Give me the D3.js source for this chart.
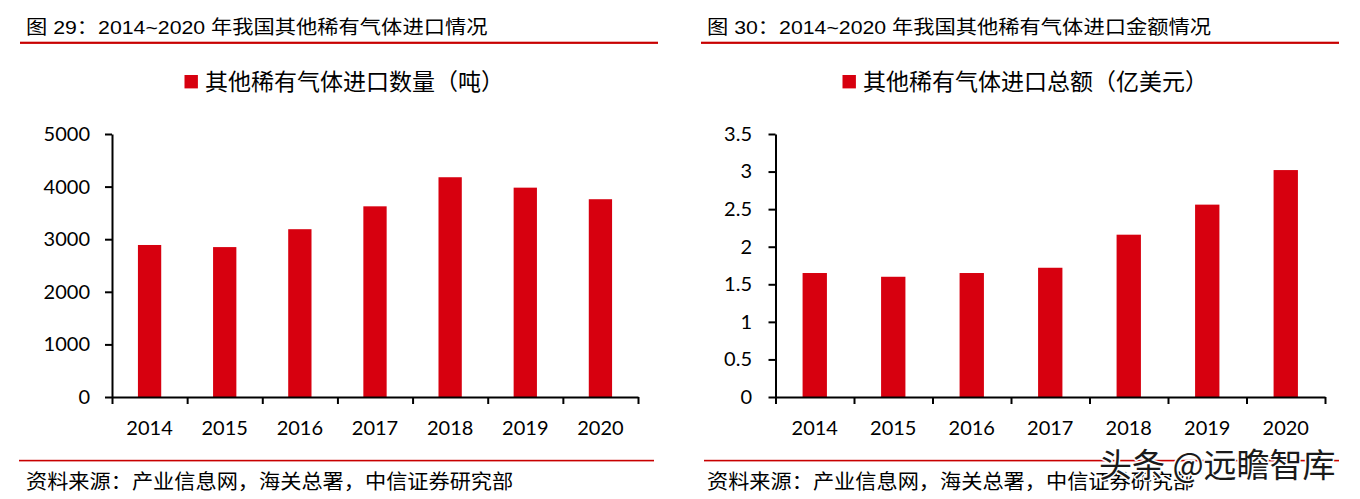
<!DOCTYPE html>
<html><head><meta charset="utf-8">
<script src="https://cdn.jsdelivr.net/npm/d3@7"></script>
<style>body{margin:0;background:#fff}svg{display:block}</style>
</head><body>
<svg id="c" width="1360" height="499"></svg>
<script>
// ---- data ----
const years = ["2014","2015","2016","2017","2018","2019","2020"];
const volumeValues = [2890, 2850, 3190, 3625, 4178, 3980, 3760];   // 吨
const amountValues = [1.65, 1.60, 1.65, 1.72, 2.16, 2.56, 3.02];   // 亿美元
const volumeTicks = [0, 1000, 2000, 3000, 4000, 5000];
const amountTicks = [0, 0.5, 1, 1.5, 2, 2.5, 3, 3.5];
const titles = ["图 29：2014~2020 年我国其他稀有气体进口情况", "图 30：2014~2020 年我国其他稀有气体进口金额情况"];
const legendLabels = ["其他稀有气体进口数量（吨）", "其他稀有气体进口总额（亿美元）"];
const sourceText = "资料来源：产业信息网，海关总署，中信证券研究部";
const watermarkText = "头条 @远瞻智库";

const RED = "#d7000f", LINE_RED = "#c80000";
const CJK = "'Liberation Sans','Noto Sans CJK SC',sans-serif";
const NUM = "Lato,'Liberation Sans',sans-serif";

const svg = d3.select("#c");

function stretchText(parent, x, y, txt, size, sx, family, anchor) {
  return parent.append("text")
    .attr("transform", `translate(${x},${y}) scale(${sx},1)`)
    .attr("font-family", family).attr("font-size", size)
    .attr("text-anchor", anchor || "start").attr("fill", "#000")
    .text(txt);
}

const panels = [
  {px0: 20, px1: 658, fx1: 654, ax0: 112, ax1: 638, legendX: 184.5, values: volumeValues, ticks: volumeTicks, max: 5000, pad: 15, title: titles[0], legend: legendLabels[0]},
  {px0: 701, px1: 1339, fx1: 1339, ax0: 775.5, ax1: 1325, legendX: 842.5, values: amountValues, ticks: amountTicks, max: 3.5, pad: 16.5, title: titles[1], legend: legendLabels[1]}
];

const yTop = 134, yBot = 397;

panels.forEach((p, i) => {
  const g = svg.append("g");
  // title
  stretchText(g, p.px0 + 6, 33.5, p.title, 19, 1.12, CJK);
  g.append("rect").attr("x", p.px0).attr("y", 41.7).attr("width", p.px1 - p.px0).attr("height", 2.2).attr("fill", LINE_RED);

  // legend
  g.append("rect").attr("x", p.legendX).attr("y", 75).attr("width", 13.4).attr("height", 13.4).attr("fill", RED);
  stretchText(g, p.legendX + 20.5, 90, p.legend, 23, 1.0, CJK);

  // scales
  const x = d3.scaleBand().domain(years).range([p.ax0, p.ax1]).paddingInner(0.69).paddingOuter(0.345);
  const xEdge = d3.scaleLinear().domain([0, years.length]).range([p.ax0, p.ax1]);
  const y = d3.scaleLinear().domain([0, p.max]).range([yBot, yTop]);

  // bars
  g.append("g").selectAll("rect").data(p.values).join("rect")
    .attr("x", (d, j) => x(years[j]))
    .attr("width", x.bandwidth())
    .attr("y", d => y(d))
    .attr("height", d => y(0) - y(d))
    .attr("fill", RED);

  // y axis
  const ya = g.append("g").attr("transform", `translate(${p.ax0},0)`)
    .call(d3.axisLeft(y).tickValues(p.ticks).tickFormat(d => String(d)).tickSize(7).tickSizeOuter(0).tickPadding(p.pad));
  // x axis tick marks at band edges
  const xa = g.append("g").attr("transform", `translate(0,${yBot})`)
    .call(d3.axisBottom(xEdge).tickValues(d3.range(years.length + 1)).tickFormat("").tickSize(7).tickSizeOuter(0));
  // x labels
  const xl = g.append("g").attr("transform", `translate(0,${yBot})`)
    .call(d3.axisBottom(x).tickSize(0).tickPadding(24));
  xl.select(".domain").remove();

  [ya, xa].forEach(a => {
    a.selectAll("path,line").attr("stroke", "#000").attr("stroke-width", 2);
  });
  [ya, xl].forEach(a => {
    a.selectAll("text").attr("font-family", NUM).attr("font-size", 20).attr("fill", "#000");
  });

  // footer
  g.append("rect").attr("x", p.px0 + (i ? 3 : -1)).attr("y", 459.8).attr("width", p.fx1 - p.px0 - (i ? 3 : -1)).attr("height", 1.6).attr("fill", LINE_RED);
  stretchText(g, p.px0 + 6, 489, sourceText, 20, 1.06, CJK);
});

// watermark
svg.append("text")
  .attr("x", 1099).attr("y", 477)
  .attr("font-family", "'Noto Sans CJK SC',sans-serif").attr("font-size", 33)
  .attr("fill", "#1a1a1a").attr("stroke", "#fff").attr("stroke-width", 3)
  .attr("paint-order", "stroke").attr("stroke-linejoin", "round")
  .text(watermarkText);
</script>
</body></html>
